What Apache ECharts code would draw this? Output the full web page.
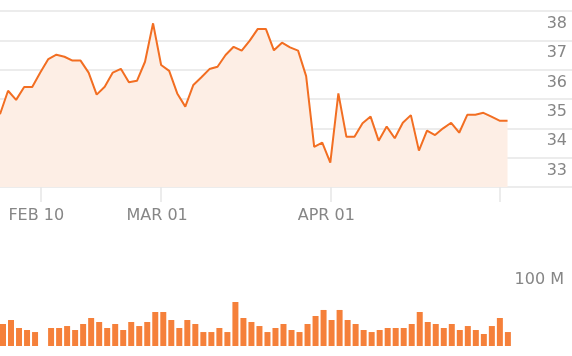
<!DOCTYPE html>
<html>
<head>
<meta charset="utf-8">
<script src="https://cdn.jsdelivr.net/npm/echarts@6/dist/echarts.min.js"></script>
<style>
html,body{margin:0;padding:0;background:#fff;}
#chart{width:572px;height:356px;}
</style>
</head>
<body>
<div id="chart"></div>
<script>
const prices = [34.48,35.28,34.97,35.41,35.41,35.90,36.36,36.51,36.44,36.31,
  36.31,35.90,35.15,35.42,35.90,36.03,35.57,35.62,36.27,37.58,
  36.16,35.96,35.19,34.74,35.48,35.74,36.02,36.10,36.50,36.78,
  36.65,36.99,37.39,37.39,36.66,36.92,36.76,36.65,35.78,33.37,
  33.51,32.83,35.19,33.71,33.71,34.17,34.40,33.58,34.06,33.66,
  34.19,34.45,33.24,33.92,33.77,34.00,34.19,33.85,34.46,34.46,
  34.53,34.40,34.26,34.26];
const volumes = [28.2,33.3,23.1,20.5,17.9,null,23.1,23.1,25.6,20.5,
  28.2,35.9,30.8,23.1,28.2,20.5,30.8,25.6,30.8,43.6,
  43.6,33.3,23.1,33.3,28.2,17.9,17.9,23.1,17.9,56.4,
  35.9,30.8,25.6,17.9,23.1,28.2,20.5,17.9,28.2,38.5,
  46.2,33.3,46.2,33.3,28.2,20.5,17.9,20.5,23.1,23.1,
  23.1,28.2,43.6,30.8,28.2,23.1,28.2,20.5,25.6,20.5,
  15.4,25.6,35.9,17.9];
const tickIndex = [5, 20, 41, 62];
const tickText = ['FEB 10', 'MAR 01', 'APR 01', ''];
const priceMin = 32, priceMax = 38;
const volumeMax = 100;
const volumeLabel = '100 M';

const FONT = 'DejaVu Sans';
const GREY = '#868686';
const chart = echarts.init(document.getElementById('chart'), null, {renderer: 'canvas'});
chart.setOption({
  animation: false,
  grid: [
    {left: 0, right: 0, top: 11, bottom: 169},
    {left: 3, right: -3, top: 268, bottom: 10}
  ],
  xAxis: [
    {type: 'value', gridIndex: 0, min: 0, max: 71,
     axisLine: {show: false}, splitLine: {show: false},
     axisTick: {show: true, customValues: tickIndex, length: 15, lineStyle: {color: '#e6e6e6', width: 1.5}},
     axisLabel: {customValues: tickIndex, margin: 21, padding: [0, 8, 0, 0], color: GREY, fontSize: 16, fontFamily: FONT,
       formatter: v => tickText[tickIndex.indexOf(v)] || ''}},
    {type: 'value', gridIndex: 1, min: 0, max: 71, show: false}
  ],
  yAxis: [
    {type: 'value', gridIndex: 0, position: 'right', min: priceMin, max: priceMax, interval: 1,
     axisLine: {show: false}, axisTick: {show: false},
     splitLine: {show: true, showMinLine: true, showMaxLine: true, lineStyle: {color: '#ececec', width: 2}},
     axisLabel: {inside: true, margin: 5, verticalAlign: 'top', padding: [5, 0, 0, 0],
       color: GREY, fontSize: 16, fontFamily: FONT,
       formatter: v => v === priceMin ? '' : String(v)}},
    {type: 'value', gridIndex: 1, position: 'right', min: 0, max: volumeMax, interval: volumeMax,
     axisLine: {show: false}, axisTick: {show: false}, splitLine: {show: false},
     axisLabel: {inside: true, margin: 8, verticalAlign: 'top', padding: [4, 0, 0, 0],
       color: GREY, fontSize: 16, fontFamily: FONT,
       formatter: v => v === volumeMax ? volumeLabel : ''}}
  ],
  series: [
    {type: 'line', xAxisIndex: 0, yAxisIndex: 0,
     data: prices.map((v, i) => [i, v]),
     showSymbol: false, symbol: 'none',
     lineStyle: {color: '#f26e22', width: 2},
     areaStyle: {color: '#fdeee5', origin: 'start', opacity: 1}},
    {type: 'bar', xAxisIndex: 1, yAxisIndex: 1,
     data: volumes.map((v, i) => [i, v]),
     barWidth: 6, itemStyle: {color: '#f5803a'}}
  ]
});
</script>
</body>
</html>
